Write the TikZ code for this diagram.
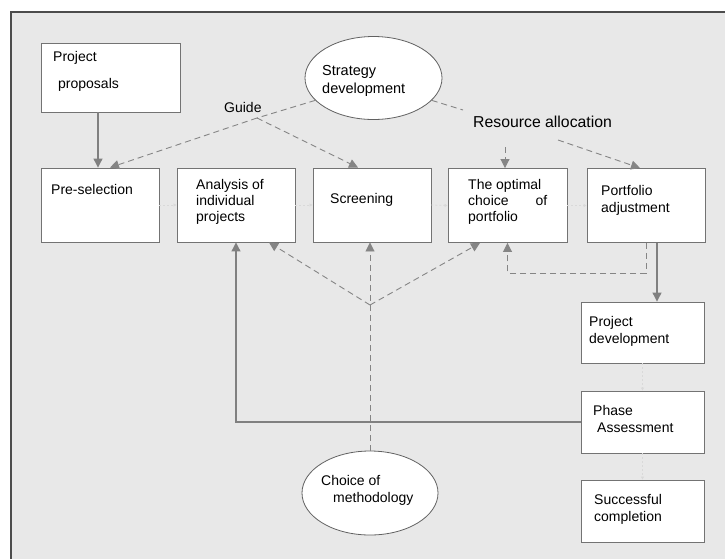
\documentclass[tikz,border=0pt]{standalone}
\usepackage{fontspec}
\setmainfont{Liberation Sans}
\usetikzlibrary{arrows.meta,shapes.geometric}

\begin{document}
\begin{tikzpicture}[x=1pt, y=-1pt, >={Triangle[length=9pt,width=9pt]},
    box/.style={draw=black!55, fill=white, line width=0.9pt, minimum width=118pt, minimum height=74pt, inner sep=0pt},
    oval/.style={ellipse, draw=black!62, fill=white, line width=0.8pt, inner sep=0pt},
    txt/.style={anchor=north west, inner sep=0pt, align=left, font=\fontsize{14}{17}\selectfont},
    dsh/.style={draw=black!48, line width=0.9pt, dash pattern=on 6pt off 4pt},
    arr/.style={draw=black!50, line width=1.1pt},
    faint/.style={draw=black!15, line width=0.8pt, dash pattern=on 2pt off 2pt, -{Triangle[length=3pt,width=3pt]}}]
    % frame
    \useasboundingbox (0,0) rectangle (725,558);
    \clip (0,0) rectangle (725,558);
    \fill[white] (0,0) rectangle (725,558);
    \draw[fill=black!9, draw=black!70, line width=1.2pt] (11,12) rectangle (740,570);

    % boxes
    \node[box, minimum width=139pt, minimum height=69pt] (prop) at (110.5,77.5) {};
    \node[box] (pre) at (100,205) {};
    \node[box] (ana) at (236,205) {};
    \node[box] (scr) at (372,205) {};
    \node[box, minimum width=119pt] (opt) at (507.5,205.5) {};
    \node[box] (adj) at (646,205.5) {};
    \node[box, minimum width=123pt, minimum height=61pt] (dev) at (642.5,332.5) {};
    \node[box, minimum width=123pt, minimum height=62pt] (pha) at (642.5,422) {};
    \node[box, minimum width=123pt, minimum height=62pt] (suc) at (642.5,511) {};
    \node[oval, minimum width=137pt, minimum height=83pt] (strat) at (373.5,78) {};
    \node[oval, minimum width=136pt, minimum height=84pt] (meth) at (370,493) {};

    % texts
    \node[txt] (t-prop) at (53,51) {Project\\[10pt]\hspace*{5pt}proposals};
    \node[txt] (t-pre) at (51,184) {Pre-selection};
    \node[txt, font=\fontsize{14}{16}\selectfont] (t-ana) at (196,179) {Analysis of\\individual\\projects};
    \node[txt] (t-scr) at (330,193) {Screening};
    \node[txt, font=\fontsize{14}{16}\selectfont] (t-opt) at (468,179) {The optimal\\\hbox to 79pt{choice\hfill of}\\portfolio};
    \node[txt] (t-adj) at (601,185) {Portfolio\\adjustment};
    \node[txt] (t-dev) at (589,316) {Project\\development};
    \node[txt] (t-pha) at (593,405) {Phase\\\hspace*{4pt}Assessment};
    \node[txt] (t-suc) at (594,494) {Successful\\completion};
    \node[txt, font=\fontsize{14.5}{18}\selectfont] (t-strat) at (322,65) {Strategy\\development};
    \node[txt] (t-meth) at (321,475) {Choice of\\\hspace*{12pt}methodology};
    \node[txt] (guide) at (224,102) {Guide};
    \node[txt, font=\fontsize{15.8}{18}\selectfont] (res) at (473,115.5) {Resource allocation};

    % strategy links
    \coordinate (g) at (257,118);
    \draw[arr,->] ([xshift=-12.5pt]prop.south) -- ([xshift=-2pt]pre.north);
    \draw[dsh] (strat.201) -- (g);
    \draw[dsh,->] (g) -- ([xshift=10pt]pre.north);
    \draw[dsh,->] (g) -- ([xshift=-14pt]scr.north);
    \coordinate (ra-in) at (463,110);
    \coordinate (ra-a) at (505,147);
    \coordinate (ra-b) at (558,140);
    \draw[dsh] (strat.339) -- (ra-in);
    \draw[dsh,->] (ra-a) -- ([xshift=-2.5pt]opt.north);
    \draw[dsh,->] (ra-b) -- ([xshift=-6pt]adj.north);

    % methodology
    \coordinate (m) at (370,305);
    \draw[dsh,->] (meth.north) -- (meth.north |- scr.south);
    \draw[dsh,->] (m) -- ([xshift=33pt]ana.south);
    \draw[dsh,->] (m) -- ([xshift=-27.5pt]opt.south);

    % feedback
    \draw[arr,->] (pha.west) -| (ana.south);
    \draw[arr,->] ([xshift=11pt]adj.south) -- ([xshift=14.5pt]dev.north);
    \draw[dsh,->] (adj.south) -- ++(0,30) -| (opt.south);

    % faint links
    \foreach \a/\b in {pre/ana, ana/scr, scr/opt, opt/adj}
        \draw[faint] (\a.east) -- (\b.west);
    \draw[faint] (dev.south) -- (pha.north);
    \draw[faint] (pha.south) -- (suc.north);
\end{tikzpicture}
\end{document}
